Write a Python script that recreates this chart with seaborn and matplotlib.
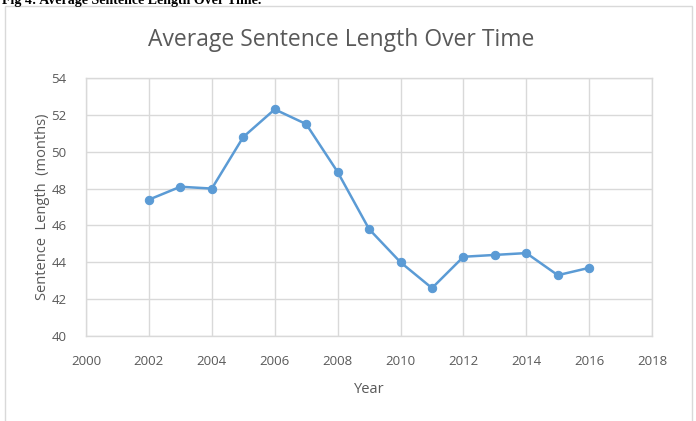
import matplotlib
matplotlib.use("Agg")
import matplotlib.pyplot as plt
import matplotlib.patches as patches
import seaborn as sns
import pandas as pd

years = [2002, 2003, 2004, 2005, 2006, 2007, 2008, 2009, 2010,
         2011, 2012, 2013, 2014, 2015, 2016]
sentence_length = [47.4, 48.1, 48.0, 50.8, 52.3, 51.5, 48.9, 45.8, 44.0,
                   42.6, 44.3, 44.4, 44.5, 43.3, 43.7]
x_ticks = list(range(2000, 2019, 2))
y_ticks = list(range(40, 55, 2))

GRAY = "#595959"
GRID = "#D9D9D9"
BLUE = "#5B9BD5"


def main():
    sns.set_style("white")
    plt.rcParams['font.family'] = ['Open Sans', 'DejaVu Sans']

    df = pd.DataFrame({'Year': years, 'Length': sentence_length})

    fig = plt.figure(figsize=(6.96, 4.21), dpi=100)
    ax = fig.add_axes([0.1236, 0.2019, 0.8134, 0.6128])

    sns.lineplot(data=df, x='Year', y='Length', ax=ax, color=BLUE,
                 linewidth=1.8, marker='o', markersize=6,
                 markeredgecolor=BLUE, zorder=3)

    ax.set_xlim(2000, 2018)
    ax.set_ylim(40, 54)
    ax.set_xticks(x_ticks)
    ax.set_yticks(y_ticks)
    ax.grid(True, color=GRID, linewidth=1)
    ax.set_axisbelow(True)
    for s in ax.spines.values():
        s.set_color(GRID)
        s.set_linewidth(1)
    ax.tick_params(length=0, colors=GRAY, labelsize=9.5)
    ax.tick_params(axis='x', pad=14)
    ax.tick_params(axis='y', pad=14)

    ax.set_xlabel('Year', color=GRAY, fontsize=10.5, labelpad=10)
    ax.set_ylabel('Sentence  Length  (months)', color=GRAY, fontsize=10.5,
                  labelpad=1)
    fig.text(0.49, 0.905, 'Average Sentence Length Over Time', color=GRAY,
             fontsize=16.5, ha='center', va='center')

    # caption from the source document, cut off at the top edge
    fig.text(0.003, 0.998, 'Fig 4: Average Sentence Length Over Time.',
             family='Liberation Serif', fontweight='bold', fontsize=10,
             ha='left', va='center', color='black')

    # outer chart border
    fig.patches.append(patches.Rectangle(
        (5 / 696, -0.01), 687 / 696, 1 - 6 / 421 + 0.01,
        transform=fig.transFigure, fill=False, edgecolor=GRID,
        linewidth=1))

    fig.savefig('out.png', dpi=100)


if __name__ == "__main__":
    main()
